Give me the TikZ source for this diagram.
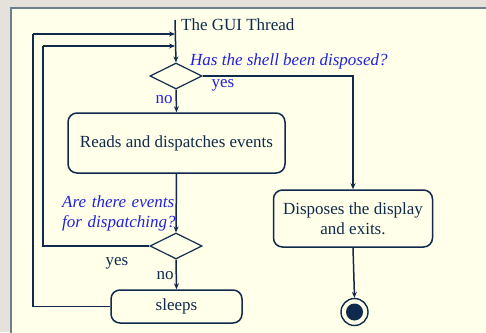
\documentclass[tikz,border=0pt]{standalone}
\usepackage{fontspec}
\setmainfont{Liberation Serif}
\usetikzlibrary{shapes.geometric,arrows.meta}
\definecolor{navy}{HTML}{0F2A4C}
\definecolor{qblue}{HTML}{2222DD}
\definecolor{panel}{HTML}{FFFFEA}
\definecolor{outer}{HTML}{E4E2DA}
\definecolor{pborder}{HTML}{6E7F8E}
\tikzset{
  line/.style={draw=navy, line width=1.5pt},
  arr/.style={line, -{Stealth[length=6pt,width=5pt]}},
  action/.style={draw=navy, line width=1.5pt, rounded corners=9pt, fill=panel, align=center, font=\fontsize{17}{20}\selectfont, text=navy, inner sep=0pt},
  decision/.style={draw=navy, line width=1.2pt, diamond, aspect=2, minimum width=52pt, minimum height=26pt, inner sep=0pt, fill=panel},
  question/.style={text=qblue, font=\fontsize{17}{20}\selectfont\itshape, align=left, inner sep=0pt},
  lbl/.style={font=\fontsize{17}{20}\selectfont, inner sep=0pt},
}
\begin{document}
\begin{tikzpicture}[x=1pt,y=-1pt]
\useasboundingbox (0,0) rectangle (486,332);
\fill[outer] (0,0) rectangle (486,332);
\filldraw[fill=panel, draw=pborder, line width=1.6pt] (11,8) rectangle (492,340);

% nodes
\coordinate (start) at (175,20);
\node[anchor=base west, lbl, text=navy] (title) at (181,30) {The GUI Thread};
\node[decision] (d1) at (176,76) {};
\node[question, anchor=base west] (q1) at (190,65) {Has the shell been disposed?};
\node[lbl, text=qblue, anchor=base] (yes1) at (223,87) {yes};
\node[lbl, text=qblue, anchor=base] (no1) at (164,103) {no};
\node[action, minimum width=217pt, minimum height=60pt] (read) at (176.5,143) {Reads and dispatches events};
\node[question, anchor=north west, text width=120pt] (q2) at (62,196) {Are there events\\for dispatching?};
\node[decision] (d2) at (176,246) {};
\node[lbl, text=navy, anchor=base] (yes2) at (117,265) {yes};
\node[lbl, text=navy, anchor=base] (no2) at (165,279) {no};
\node[action, minimum width=131pt, minimum height=33pt] (sleep) at (176.5,306.5) {sleeps};
\node[action, minimum width=159pt, minimum height=57pt] (disp) at (353,218.5) {Disposes the display\\and exits.};
\node[circle, draw=navy, line width=1.4pt, minimum size=27pt, inner sep=0pt] (final) at (354.5,312) {};
\fill[navy] (final.center) circle (8.5pt);

\coordinate (loopA) at (175,34);
\coordinate (loopB) at (175,46);

% connectors
\draw[arr] (start) -- (d1.north);
\draw[arr] (d1.south) -- (read.north);
\draw[arr] (read.south) -- (d2.north);
\draw[arr] (d2.south) -- (sleep.north);
\draw[arr] (d1.east) -| (disp.north);
\draw[arr] (disp.south) -- (final.north);
\draw[line] (d2.west) -- (43,246) -- (43,46);
\draw[arr] (43,46) -- (loopB);
\draw[line] (sleep.west) -- (33,306.5) -- (33,34);
\draw[arr] (33,34) -- (loopA);
\end{tikzpicture}
\end{document}
